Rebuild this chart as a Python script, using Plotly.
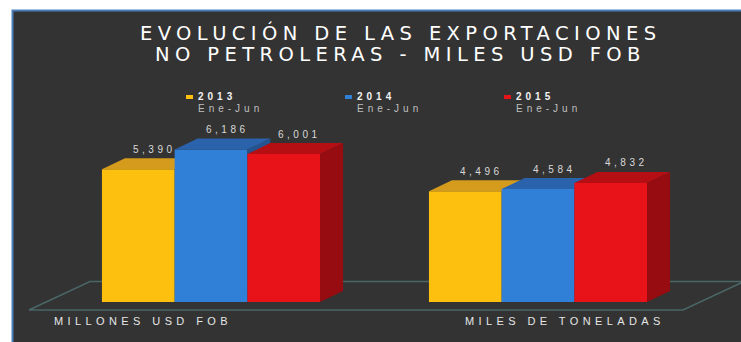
import plotly.graph_objects as go

# ---------------- data ----------------
categories = ["MILLONES USD FOB", "MILES DE TONELADAS"]
series_names = ["2013", "2014", "2015"]
series_period = "Ene-Jun"
values_2013 = [5390, 4496]
values_2014 = [6186, 4584]
values_2015 = [6001, 4832]
title_lines = ["EVOLUCIÓN DE LAS EXPORTACIONES", "NO PETROLERAS - MILES USD FOB"]

series_values = [values_2013, values_2014, values_2015]

# ---------------- style ----------------
front_colors = ["#FEC00F", "#3180D8", "#E81219"]
top_colors = ["#D49B1C", "#2A62AC", "#B50E13"]
side_colors = ["#B8861A", "#24538F", "#970C10"]
PANEL = "#333333"
BORDER = "#4A7EBB"
FLOOR = "#4A6666"

FIG_W, FIG_H = 741, 342
X0_PX, X_UNIT_PX = 211, 327        # pixel of group 0 centre, pixels per group step
Y0_PX, Y_PER_PX = 302, 40.58       # pixel of value 0, value units per pixel
BAR_W = 0.2223                     # bar width in group units
DX = 23 / X_UNIT_PX                # 3D depth offset (x)
DY = 11 * Y_PER_PX                 # 3D depth offset (y)

x_range = [(0 - X0_PX) / X_UNIT_PX, (FIG_W - X0_PX) / X_UNIT_PX]
y_range = [-(FIG_H - Y0_PX) * Y_PER_PX, Y0_PX * Y_PER_PX]


def px_x(px):
    return px / FIG_W


def px_y(py):
    return 1 - py / FIG_H


def spaced(text, ls):
    return f'<span style="letter-spacing:{ls}px">{text}</span>'


fig = go.Figure()

# floor outline
floor_front_y = -8 * Y_PER_PX
floor_back_y = 20.5 * Y_PER_PX
fl_x = [(29 - X0_PX) / X_UNIT_PX, (683 - X0_PX) / X_UNIT_PX,
        (744 - X0_PX) / X_UNIT_PX, (90 - X0_PX) / X_UNIT_PX,
        (29 - X0_PX) / X_UNIT_PX]
fl_y = [floor_front_y, floor_front_y, floor_back_y, floor_back_y, floor_front_y]
fig.add_trace(go.Scatter(x=fl_x, y=fl_y, mode="lines",
                         line=dict(color=FLOOR, width=1.5),
                         hoverinfo="skip", showlegend=False, zorder=0))

groups = list(range(len(categories)))
for i, (name, vals) in enumerate(zip(series_names, series_values)):
    offset = -1.5 * BAR_W + i * BAR_W
    z = i + 1
    fig.add_trace(go.Bar(x=groups, y=vals, name=name, offset=offset,
                         width=BAR_W, marker=dict(color=front_colors[i], line=dict(width=0)),
                         hoverinfo="skip", showlegend=False, zorder=z))
    tx, ty, sx, sy = [], [], [], []
    for g, v in zip(groups, vals):
        x0 = g + offset
        x1 = x0 + BAR_W
        tx += [x0, x1, x1 + DX, x0 + DX, x0, None]
        ty += [v, v, v + DY, v + DY, v, None]
        sx += [x1, x1 + DX, x1 + DX, x1, x1, None]
        sy += [0, DY, v + DY, v, 0, None]
    fig.add_trace(go.Scatter(x=sx, y=sy, mode="lines", fill="toself",
                             fillcolor=side_colors[i], line=dict(width=0, color=side_colors[i]),
                             hoverinfo="skip", showlegend=False, zorder=z))
    fig.add_trace(go.Scatter(x=tx, y=ty, mode="lines", fill="toself",
                             fillcolor=top_colors[i], line=dict(width=0, color=top_colors[i]),
                             hoverinfo="skip", showlegend=False, zorder=z))
    # value labels
    for g, v in zip(groups, vals):
        fig.add_annotation(x=g + offset + BAR_W / 2, y=v, xref="x", yref="y",
                           text=spaced(f"{v:,}", 3.5), showarrow=False,
                           xshift=16, yshift=20, yanchor="middle",
                           font=dict(family="Liberation Sans, Arial", size=10, color="#D9D9D9"))

# category labels
cat_x = [(143 - X0_PX) / X_UNIT_PX, 1 + (564.5 - X0_PX - X_UNIT_PX) / X_UNIT_PX]
for cx, cat in zip(cat_x, categories):
    fig.add_annotation(x=cx, y=px_y(320.5), xref="x", yref="paper",
                       text=spaced(cat, 4.4), showarrow=False, yanchor="middle",
                       font=dict(family="Liberation Sans, Arial", size=11, color="#E6E6E6"))

# legend (custom)
for i, name in enumerate(series_names):
    left = 186 + 159 * i
    fig.add_shape(type="rect", xref="paper", yref="paper",
                  x0=px_x(left), x1=px_x(left + 7), y0=px_y(99), y1=px_y(95),
                  fillcolor=front_colors[i], line=dict(width=0), layer="above")
    fig.add_annotation(x=px_x(left + 10), y=px_y(96.5), xref="paper", yref="paper",
                       xanchor="left", yanchor="middle", showarrow=False,
                       text=spaced(f"<b>{name}</b>", 4),
                       font=dict(family="Liberation Sans, Arial", size=10, color="#F2F2F2"))
    fig.add_annotation(x=px_x(left + 10), y=px_y(109), xref="paper", yref="paper",
                       xanchor="left", yanchor="middle", showarrow=False,
                       text=spaced(series_period, 4),
                       font=dict(family="Liberation Sans, Arial", size=10, color="#BFBFBF"))

# title
for k, line in enumerate(title_lines):
    fig.add_annotation(x=px_x(400), y=px_y([32.5, 54][k]), xref="paper", yref="paper",
                       xanchor="center", yanchor="middle", showarrow=False,
                       text=spaced(line, 5.4),
                       font=dict(family="DejaVu Sans", size=19.5, color="#FFFFFF"))

# dark panel with blue border
fig.add_shape(type="rect", xref="paper", yref="paper",
              x0=px_x(12.5), x1=1.2, y0=-0.2, y1=px_y(10.5),
              fillcolor=PANEL, line=dict(color=BORDER, width=2), layer="below")

fig.update_layout(
    width=FIG_W, height=FIG_H,
    margin=dict(l=0, r=0, t=0, b=0),
    paper_bgcolor="#FFFFFF", plot_bgcolor="rgba(0,0,0,0)",
    barmode="overlay", showlegend=False,
    xaxis=dict(range=x_range, visible=False, fixedrange=True),
    yaxis=dict(range=y_range, visible=False, fixedrange=True),
)

fig.write_html("out.html", config={"displayModeBar": False})
